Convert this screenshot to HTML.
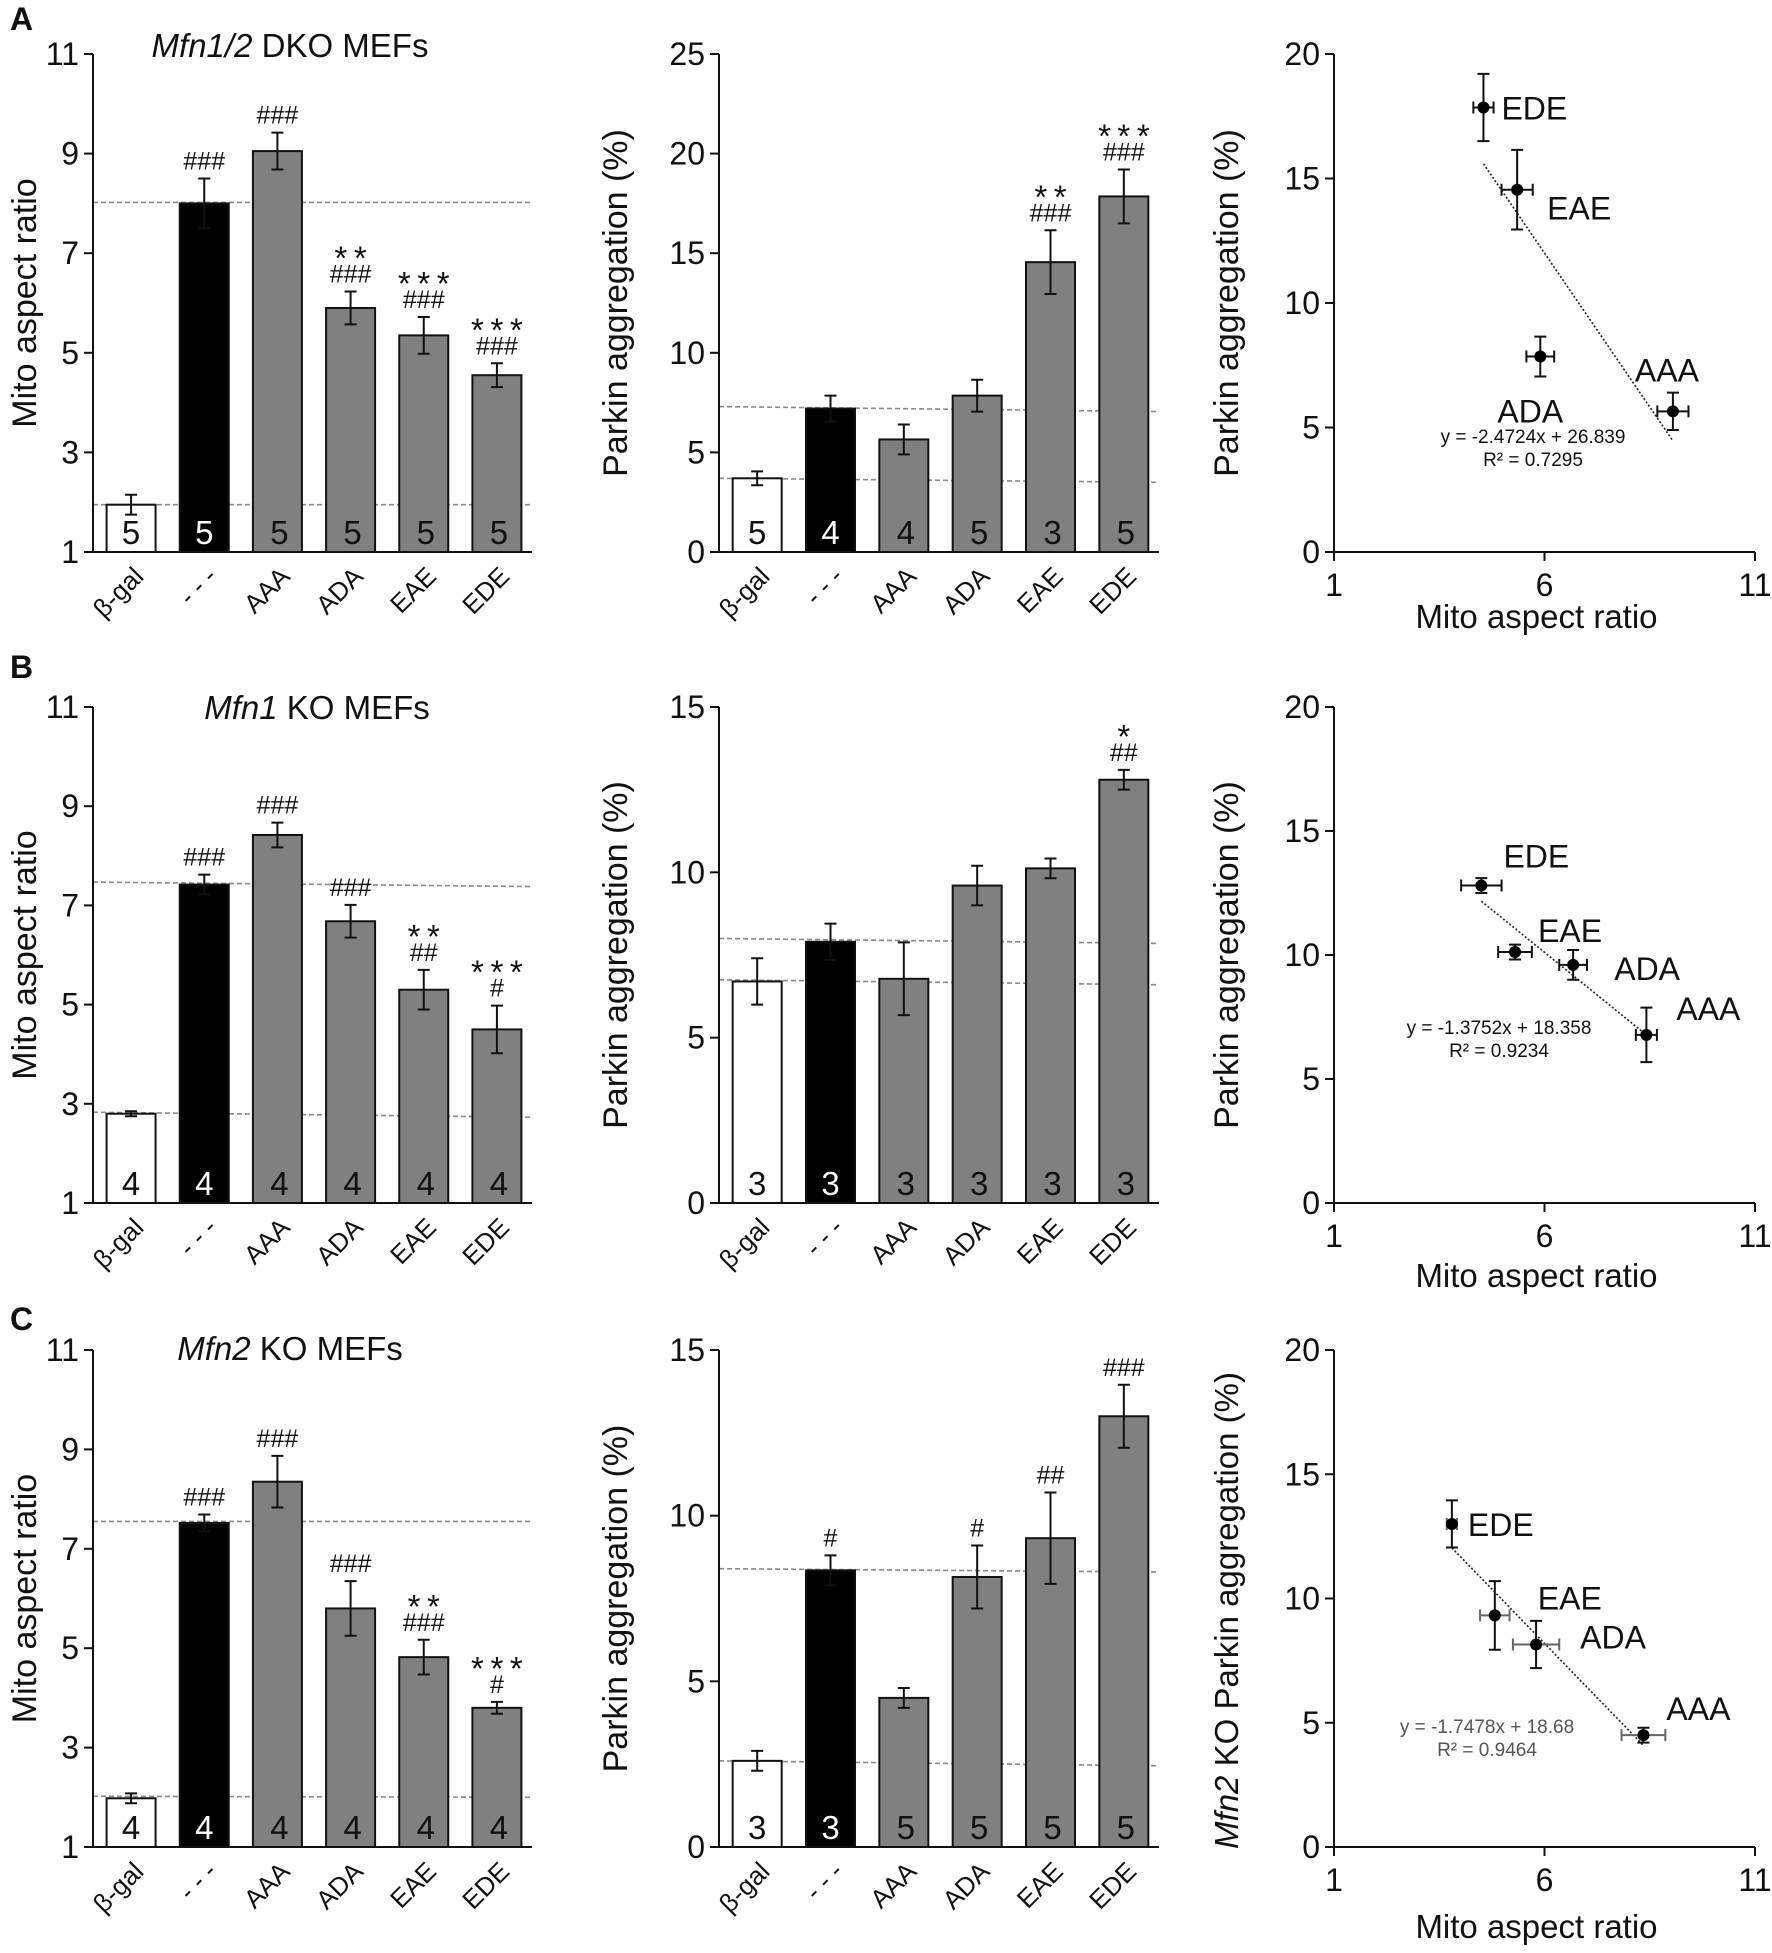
<!DOCTYPE html>
<html><head><meta charset="utf-8"><style>
html,body{margin:0;padding:0;background:#fff;}
svg{display:block;font-family:"Liberation Sans",Arial,sans-serif;}
</style></head><body>
<svg id="fig" width="1772" height="1953" viewBox="0 0 1772 1953" xmlns="http://www.w3.org/2000/svg"></svg>
<script>
// ---------- data ----------
const cats = ["β-gal","- - -","AAA","ADA","EAE","EDE"];
// Row A
const aspA = [1.95, 8.0, 9.05, 5.9, 5.35, 4.55];
const aspAErr = [0.2, 0.5, 0.37, 0.33, 0.37, 0.24];
const aspARef = [[8.02, 8.02], [1.95, 1.95]];
const aspANote = ["", "###", "###", "**|###", "***|###", "***|###"];
const aspAN = ["5","5","5","5","5","5"];
const parkA = [3.7, 7.2, 5.65, 7.85, 14.55, 17.85];
const parkAErr = [0.35, 0.65, 0.75, 0.8, 1.6, 1.35];
const parkARef = [[7.3, 7.05], [3.7, 3.5]];
const parkANote = ["", "", "", "", "**|###", "***|###"];
const parkAN = ["5","4","4","5","3","5"];
// Row B
const aspB = [2.8, 7.42, 8.42, 6.68, 5.3, 4.5];
const aspBErr = [0.05, 0.2, 0.25, 0.33, 0.4, 0.48];
const aspBRef = [[7.47, 7.38], [2.83, 2.73]];
const aspBNote = ["", "###", "###", "###", "**|##", "***|#"];
const aspBN = ["4","4","4","4","4","4"];
const parkB = [6.7, 7.9, 6.78, 9.6, 10.12, 12.8];
const parkBErr = [0.7, 0.55, 1.1, 0.6, 0.3, 0.3];
const parkBRef = [[8.0, 7.85], [6.75, 6.6]];
const parkBNote = ["", "", "", "", "", "*|##"];
const parkBN = ["3","3","3","3","3","3"];
// Row C
const aspC = [1.98, 7.52, 8.35, 5.8, 4.82, 3.8];
const aspCErr = [0.1, 0.17, 0.52, 0.55, 0.35, 0.12];
const aspCRef = [[7.55, 7.55], [2.02, 2.0]];
const aspCNote = ["", "###", "###", "###", "**|###", "***|#"];
const aspCN = ["4","4","4","4","4","4"];
const parkC = [2.6, 8.35, 4.5, 8.15, 9.32, 13.0];
const parkCErr = [0.3, 0.45, 0.3, 0.95, 1.38, 0.95];
const parkCRef = [[8.4, 8.3], [2.6, 2.45]];
const parkCNote = ["", "#", "", "#", "##", "###"];
const parkCN = ["3","3","5","5","5","5"];
// scatter data
const scCats = ["EDE","EAE","ADA","AAA"];
const scAx = [4.55, 5.35, 5.9, 9.05], scAxErr = [0.24, 0.37, 0.33, 0.37];
const scAy = [17.85, 14.55, 7.85, 5.65], scAyErr = [1.35, 1.6, 0.8, 0.75];
const scAfit = [-2.4724, 26.839];
const scBx = [4.5, 5.3, 6.68, 8.42], scBxErr = [0.48, 0.4, 0.33, 0.25];
const scBy = [12.8, 10.12, 9.6, 6.78], scByErr = [0.3, 0.3, 0.6, 1.1];
const scBfit = [-1.3752, 18.358];
const scCx = [3.8, 4.82, 5.8, 8.35], scCxErr = [0.12, 0.35, 0.55, 0.52];
const scCy = [13.0, 9.32, 8.15, 4.5], scCyErr = [0.95, 1.38, 0.95, 0.3];
const scCfit = [-1.7478, 18.68];
// label layout (pixel offsets: dx, dy, anchor)
const lblA = [[18,12,"start"],[30,30,"start"],[-10,66,"middle"],[-6,-30,"middle"]];
const lblB = [[55,-18,"middle"],[55,-10,"middle"],[74,15,"middle"],[62,-15,"middle"]];
const lblC = [[16,12,"start"],[75,-6,"middle"],[77,4,"middle"],[55,-15,"middle"]];

// ---------- helpers ----------
const NS = "http://www.w3.org/2000/svg";
const svg = document.getElementById("fig");
function mk(tag, attrs, parent) {
  const e = document.createElementNS(NS, tag);
  for (const k in attrs) e.setAttribute(k, attrs[k]);
  (parent || svg).appendChild(e);
  return e;
}
function txt(s, attrs, parent) { const e = mk("text", attrs, parent); e.textContent = s; return e; }

const rows = [{top:54, bot:552}, {top:707, bot:1203}, {top:1350, bot:1847}];
const col1 = {x0:93, x1:532}, col2 = {x0:719, x1:1159}, col3 = {x0:1334, x1:1755};

function barPanel(name, col, row, ymin, ymax, ystep, vals, errs, refs, notes, ns, ylabel, ylabX) {
  const g = mk("g", {});
  
  
  const ys = v => row.bot - (v - ymin) / (ymax - ymin) * (row.bot - row.top);
  const slot = (col.x1 - col.x0) / cats.length;
  const bw = 49;
  refs.forEach(r => {
    const l = mk("line", {x1:col.x0, y1:ys(r[0]), x2:col.x1, y2:ys(r[1]), stroke:"#8a8a8a", "stroke-width":1.6, "stroke-dasharray":"5,3"}, g);
    
    
  });
  vals.forEach((v, i) => {
    const cx = col.x0 + slot * (i + 0.5) + 1.5;
    const fill = i === 0 ? "#fff" : (i === 1 ? "#000" : "#808080");
    const r = mk("rect", {x:cx - bw/2, y:ys(v), width:bw, height:row.bot - ys(v), fill:fill, stroke:"#111", "stroke-width":2}, g);
    
    
    const e1 = ys(v + errs[i]), e2 = ys(v - errs[i]);
    const eb = mk("path", {d:`M${cx} ${e1}V${e2}M${cx-6} ${e1}H${cx+6}M${cx-6} ${e2}H${cx+6}`, stroke:"#111", "stroke-width":2, fill:"none"}, g);
    
    
    const n = txt(ns[i], {x:cx + (i > 1 ? 2 : 0), y:row.bot - 8, "text-anchor":"middle", "font-size":33, fill:i === 1 ? "#fff" : "#111"}, g);
    
    
    if (notes[i]) {
      const parts = notes[i].split("|");
      let y = e1 - 9;
      for (let k = parts.length - 1; k >= 0; k--) {
        const isStar = parts[k].indexOf("*") >= 0;
        const t = txt(isStar ? parts[k].split("").join("\u2009") : parts[k], {x:cx, y:isStar ? y + 13 : y, "text-anchor":"middle", "font-size":isStar ? 33 : 25, fill:"#111"}, g);
        
        
        y -= 26;
      }
    }
    const c = txt(cats[i], {x:0, y:0, "text-anchor":"end", "font-size":26, fill:"#111", transform:`translate(${cx + 14},${row.bot + 26}) rotate(-45)`}, g);
    
    
  });
  const ax = mk("path", {d:`M${col.x0} ${row.top}V${row.bot}H${col.x1}`, stroke:"#111", "stroke-width":2, fill:"none"}, g);
  
  
  for (let v = ymin; v <= ymax + 1e-9; v += ystep) {
    mk("line", {x1:col.x0 - 9, x2:col.x0, y1:ys(v), y2:ys(v), stroke:"#111", "stroke-width":2}, g);
    const t = txt(String(v), {x:col.x0 - 14, y:ys(v) + 11, "text-anchor":"end", "font-size":32, fill:"#111"}, g);
    
    
  }
  const yl = txt(ylabel, {x:0, y:0, "text-anchor":"middle", "font-size":34, fill:"#111", transform:`translate(${ylabX},${(row.top + row.bot) / 2}) rotate(-90)`}, g);
  
  
  return g;
}

function scatterPanel(name, row, xs, xe, ys_, ye, fit, lbl, eq, r2, eqPos, eqColor, xErrColor, xlabel, xlabY) {
  const g = mk("g", {});
  
  
  const col = col3;
  const sx = v => col.x0 + (v - 1) / 10 * (col.x1 - col.x0);
  const sy = v => row.bot - v / 20 * (row.bot - row.top);
  const ax = mk("path", {d:`M${col.x0} ${row.top}V${row.bot}H${col.x1}`, stroke:"#111", "stroke-width":2, fill:"none"}, g);
  
  
  [0,5,10,15,20].forEach(v => {
    mk("line", {x1:col.x0 - 9, x2:col.x0, y1:sy(v), y2:sy(v), stroke:"#111", "stroke-width":2}, g);
    const t = txt(String(v), {x:col.x0 - 14, y:sy(v) + 11, "text-anchor":"end", "font-size":32, fill:"#111"}, g);
    
    
  });
  [1,6,11].forEach(v => {
    mk("line", {x1:sx(v), x2:sx(v), y1:row.bot, y2:row.bot + 9, stroke:"#111", "stroke-width":2}, g);
    const t = txt(String(v), {x:sx(v), y:row.bot + 44, "text-anchor":"middle", "font-size":32, fill:"#111"}, g);
    
    
  });
  const xmin = Math.min(...xs), xmax = Math.max(...xs);
  const tl = mk("line", {x1:sx(xmin), y1:sy(fit[0]*xmin + fit[1]), x2:sx(xmax), y2:sy(fit[0]*xmax + fit[1]), stroke:"#222", "stroke-width":1.6, "stroke-dasharray":"2,2"}, g);
  
  
  xs.forEach((x, i) => {
    const px = sx(x), py = sy(ys_[i]);
    const x1 = sx(x - xe[i]), x2 = sx(x + xe[i]), y1 = sy(ys_[i] + ye[i]), y2 = sy(ys_[i] - ye[i]);
    const exb = mk("path", {d:`M${x1} ${py}H${x2}M${x1} ${py-6}V${py+6}M${x2} ${py-6}V${py+6}`, stroke:xErrColor, "stroke-width":2, fill:"none"}, g);
    
    
    const eyb = mk("path", {d:`M${px} ${y1}V${y2}M${px-6} ${y1}H${px+6}M${px-6} ${y2}H${px+6}`, stroke:"#111", "stroke-width":2, fill:"none"}, g);
    
    
    const c = mk("circle", {cx:px, cy:py, r:6, fill:"#000"}, g);
    
    
    const t = txt(scCats[i], {x:px + lbl[i][0], y:py + lbl[i][1], "text-anchor":lbl[i][2], "font-size":32, fill:"#111"}, g);
    
    
  });
  const e1 = txt(eq, {x:eqPos[0], y:eqPos[1], "text-anchor":"middle", "font-size":19, fill:eqColor}, g);
  
  
  const e2 = txt(r2, {x:eqPos[0], y:eqPos[1] + 23, "text-anchor":"middle", "font-size":19, fill:eqColor}, g);
  
  
  const xl = txt(xlabel, {x:(col.x0 + col.x1) / 2 - 8, y:xlabY, "text-anchor":"middle", "font-size":33, fill:"#111", "xml:space":"preserve"}, g);
  
  
  return g;
}

// ---------- panels ----------
barPanel("mito-ratio-dko", col1, rows[0], 1, 11, 2, aspA, aspAErr, aspARef, aspANote, aspAN, "Mito aspect ratio", 36);
barPanel("parkin-dko", col2, rows[0], 0, 25, 5, parkA, parkAErr, parkARef, parkANote, parkAN, "Parkin aggregation (%)", 627);
scatterPanel("scatter-dko", rows[0], scAx, scAxErr, scAy, scAyErr, scAfit, lblA, "y = -2.4724x + 26.839", "R² = 0.7295", [1533, 443], "#111", "#111", "Mito aspect  ratio", 628);

barPanel("mito-ratio-mfn1", col1, rows[1], 1, 11, 2, aspB, aspBErr, aspBRef, aspBNote, aspBN, "Mito aspect ratio", 36);
barPanel("parkin-mfn1", col2, rows[1], 0, 15, 5, parkB, parkBErr, parkBRef, parkBNote, parkBN, "Parkin aggregation (%)", 627);
scatterPanel("scatter-mfn1", rows[1], scBx, scBxErr, scBy, scByErr, scBfit, lblB, "y = -1.3752x + 18.358", "R² = 0.9234", [1499, 1034], "#111", "#111", "Mito aspect ratio", 1287);

barPanel("mito-ratio-mfn2", col1, rows[2], 1, 11, 2, aspC, aspCErr, aspCRef, aspCNote, aspCN, "Mito aspect ratio", 36);
barPanel("parkin-mfn2", col2, rows[2], 0, 15, 5, parkC, parkCErr, parkCRef, parkCNote, parkCN, "Parkin aggregation (%)", 627);
scatterPanel("scatter-mfn2", rows[2], scCx, scCxErr, scCy, scCyErr, scCfit, lblC, "y = -1.7478x + 18.68", "R² = 0.9464", [1487, 1733], "#555", "#666", "Mito aspect ratio", 1938);

const ylA = txt("Parkin aggregation (%)", {x:0, y:0, "text-anchor":"middle", "font-size":34, fill:"#111", transform:`translate(1238,${(rows[0].top + rows[0].bot) / 2}) rotate(-90)`});


const ylB = txt("Parkin aggregation (%)", {x:0, y:0, "text-anchor":"middle", "font-size":34, fill:"#111", transform:`translate(1238,${(rows[1].top + rows[1].bot) / 2}) rotate(-90)`});


const ylC = mk("text", {x:0, y:0, "text-anchor":"middle", "font-size":33, fill:"#111", transform:`translate(1238,${(rows[2].top + rows[2].bot) / 2 + 12}) rotate(-90)`});


const ts1 = mk("tspan", {"font-style":"italic"}, ylC); ts1.textContent = "Mfn2";
const ts2 = mk("tspan", {}, ylC); ts2.textContent = " KO Parkin aggregation (%)";

function title(it, rest, x, y) {
  const t = mk("text", {x:x, y:y, "text-anchor":"middle", "font-size":33, fill:"#111"});
  
  
  const a = mk("tspan", {"font-style":"italic"}, t); a.textContent = it;
  const b = mk("tspan", {}, t); b.textContent = rest;
}
title("Mfn1/2", " DKO MEFs", 290, 57);
title("Mfn1", " KO MEFs", 317, 719);
title("Mfn2", " KO MEFs", 290, 1360);

[["A", 30], ["B", 678], ["C", 1330]].forEach(p => {
  const t = txt(p[0], {x:10, y:p[1], "font-size":32, "font-weight":"bold", fill:"#111"});
  
  
});
</script>
</body></html>
